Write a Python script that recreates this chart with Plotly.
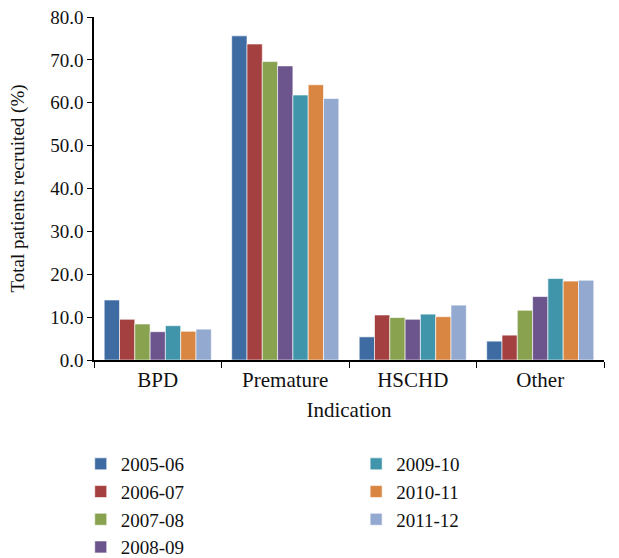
import plotly.graph_objects as go

categories = ["BPD", "Premature", "HSCHD", "Other"]
years = ["2005-06", "2006-07", "2007-08", "2008-09", "2009-10", "2010-11", "2011-12"]
v_2005_06 = [14.0, 75.6, 5.4, 4.4]
v_2006_07 = [9.5, 73.7, 10.5, 5.8]
v_2007_08 = [8.4, 69.6, 9.9, 11.6]
v_2008_09 = [6.6, 68.6, 9.5, 14.8]
v_2009_10 = [8.0, 61.8, 10.7, 19.0]
v_2010_11 = [6.7, 64.2, 10.1, 18.4]
v_2011_12 = [7.2, 61.0, 12.8, 18.6]
series = [v_2005_06, v_2006_07, v_2007_08, v_2008_09, v_2009_10, v_2010_11, v_2011_12]
colors = ["#3E6CA2", "#A4403F", "#88A250", "#6C558C", "#4195AA", "#D98643", "#93A9CF"]

FONT = "Liberation Serif"

fig = go.Figure()
for i, (name, vals, col) in enumerate(zip(years, series, colors)):
    fig.add_trace(go.Bar(
        x=categories, y=vals, name=name,
        marker=dict(color=col, line=dict(color="rgba(255,255,255,0.6)", width=1)),
        legend="legend" if i < 4 else "legend2",
    ))

leg_y = 1 - 445 / 558
fig.update_layout(
    width=619, height=558,
    margin=dict(l=94, r=15, t=17, b=198, autoexpand=False),
    paper_bgcolor="white", plot_bgcolor="white",
    font=dict(family=FONT, size=19, color="#111111"),
    barmode="group", bargap=0.16, bargroupgap=0,
    legend=dict(x=-0.026, xref="paper", y=leg_y, yref="container",
                xanchor="left", yanchor="top",
                font=dict(family=FONT, size=19), bgcolor="rgba(0,0,0,0)"),
    legend2=dict(x=0.514, xref="paper", y=leg_y, yref="container",
                 xanchor="left", yanchor="top",
                 font=dict(family=FONT, size=19), bgcolor="rgba(0,0,0,0)"),
    showlegend=True,
)
fig.update_xaxes(
    showline=True, linecolor="black", linewidth=1.5,
    ticks="outside", tickson="boundaries", ticklen=6, tickcolor="black",
    tickfont=dict(family=FONT, size=21), automargin=False,
    title=dict(text="Indication", font=dict(family=FONT, size=21), standoff=11),
)
fig.update_yaxes(
    range=[0, 80], dtick=10, tickformat=".1f",
    showline=True, linecolor="black", linewidth=1.5,
    ticks="outside", ticklen=5, tickcolor="black",
    showgrid=False, zeroline=False, automargin=False,
    tickfont=dict(family=FONT, size=19),
    title=dict(text="Total patients recruited (%)", font=dict(family=FONT, size=19), standoff=21),
)

fig.write_html("out.html", config={"displayModeBar": False},
               post_script="document.body.style.margin='0';")
